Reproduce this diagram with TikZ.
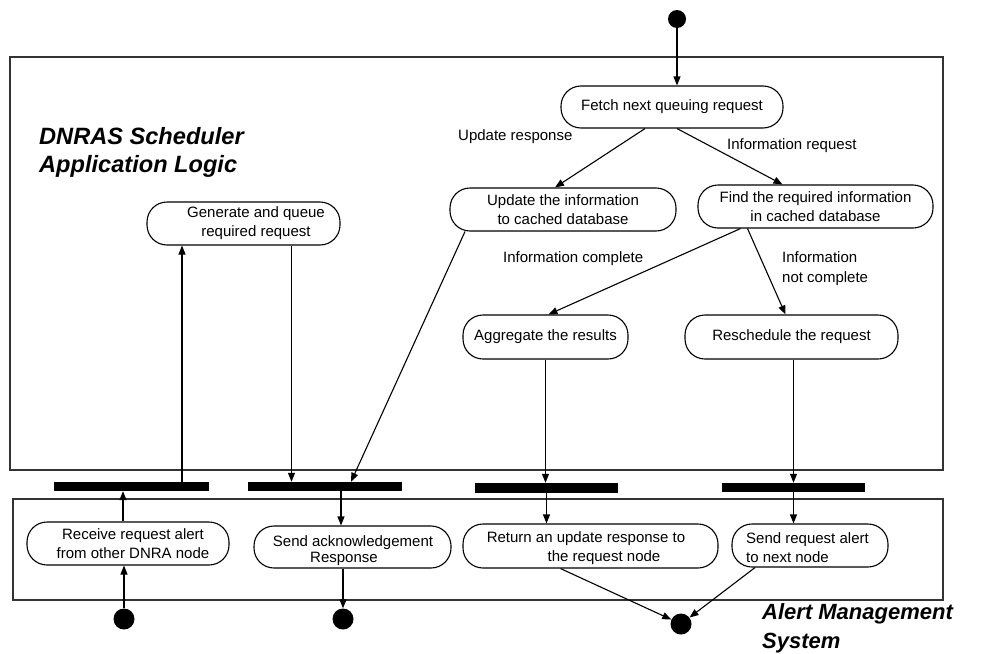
\documentclass[tikz,border=0pt]{standalone}
\usepackage{fontspec}
\setmainfont{Liberation Sans}
\usetikzlibrary{arrows.meta}
\begin{document}
\begin{tikzpicture}[x=1pt,y=-1pt,
  state/.style={draw, line width=1.1pt, rounded corners=20pt, minimum height=43pt, inner sep=0pt,
                font=\fontsize{15}{19}\selectfont, align=center},
  txt/.style={font=\fontsize{15}{19}\selectfont, inner sep=0pt},
  title/.style={font=\fontsize{22}{28}\selectfont\bfseries\itshape, inner sep=0pt, anchor=base west},
  bar/.style={fill=black, inner sep=0pt, minimum height=9pt},
  dot/.style={circle, fill=black, inner sep=0pt, minimum size=21pt},
  arr/.style={-{Triangle[length=9pt,width=7pt]}, line width=1.1pt},
  lane/.style={draw=black!80, line width=1.2pt}]
\useasboundingbox (0,0) rectangle (1003,653);

% swimlanes
\draw[lane] (10,57) rectangle (943,470);
\draw[lane] (13,499) rectangle (943,600);

% titles
\node[title, font=\fontsize{23.6}{28}\selectfont\bfseries\itshape] (t1) at (39,144) {DNRAS Scheduler};
\node[title, font=\fontsize{23.6}{28}\selectfont\bfseries\itshape] (t2) at (39,172) {Application Logic};
\node[title] (t3) at (762,619) {Alert Management};
\node[title] (t4) at (762,648) {System};

% start / end dots
\node[dot, minimum size=18pt] (top) at (677,19) {};
\node[dot] (d1) at (124,619) {};
\node[dot] (d2) at (343,619) {};
\node[dot] (d3) at (681,624) {};

% states (upper lane)
\node[state, minimum width=222pt, minimum height=42pt] (fetch) at (672,107) {Fetch next queuing request};
\node[state, minimum width=226pt] (upd) at (563,209.5) {Update the information\\to cached database};
\node[state, minimum width=235pt] (find) at (815.5,206.5) {Find the required information\\in cached database};
\node[state, minimum width=165pt, minimum height=44pt] (agg) at (545.5,337) {Aggregate the results};
\node[state, minimum width=213pt, minimum height=44pt] (res) at (791.5,337) {Reschedule the request};
\node[state, minimum width=193pt] (gen) at (243.5,223.5) {};
\node[txt, align=center] (gent) at (256,223.5) {Generate and queue\\required request};

% states (lower lane)
\node[state, minimum width=202pt] (rcv) at (128,543.5) {};
\node[txt, align=center] (rcvt) at (133,543.5) {Receive request alert\\from other DNRA node};
\node[state, minimum width=197pt, minimum height=42pt] (ack) at (352.5,547) {};
\node[txt, align=center, font=\fontsize{15}{16}\selectfont] (ackt) at (353,551) {Send acknowledgement\\Response\hspace*{18pt}};
\node[state, minimum width=255pt, minimum height=44pt] (ret) at (590.5,546) {};
\node[txt, align=center] (rett) at (586,548) {Return an update response to\\\hspace*{36pt}the request node};
\node[state, minimum width=156pt] (sra) at (810,545.5) {};
\node[txt, align=left, anchor=west] (srat) at (746,547.5) {Send request alert\\to next node};

% synchronisation bars
\node[bar, minimum width=155pt] (bar1) at (131.5,486.5) {};
\node[bar, minimum width=154pt] (bar2) at (325,486.5) {};
\node[bar, minimum width=143pt, minimum height=10pt] (bar3) at (546.5,488) {};
\node[bar, minimum width=143pt] (bar4) at (793.5,487.5) {};

% guard labels
\node[txt, anchor=west] (l1) at (458,137) {Update response};
\node[txt, anchor=west] (l2) at (727,146) {Information request};
\node[txt, anchor=west] (l3) at (503,259) {Information complete};
\node[txt, anchor=west, align=left, font=\fontsize{15}{20}\selectfont] (l4) at (782,269) {Information\\not complete};

% connectors
\draw[arr] (top.south) -- (top.south |- fetch.north);
\draw[arr] ([xshift=-27pt]fetch.south) -- ([xshift=-8pt]upd.north);
\draw[arr] ([xshift=5pt]fetch.south) -- ([xshift=-33pt]find.north);
\draw[arr] ([xshift=-75pt]find.south) -- ([xshift=3pt]agg.north);
\draw[arr] ([xshift=-68pt]find.south) -- ([xshift=-6pt]res.north);
\draw[arr] ([xshift=-98pt]upd.south) -- ([xshift=26pt]bar2.north);
\draw[arr] ([xshift=48pt]gen.south) -- ([xshift=48pt]gen.south |- bar2.north);
\draw[arr] ([xshift=50.5pt]bar1.north) -- ([xshift=50.5pt]bar1.north |- gen.south);
\draw[arr] ([xshift=-5pt]rcv.north) -- ([xshift=-5pt]rcv.north |- bar1.south);
\draw[arr] (d1.north) -- (d1.north |- rcv.south);
\draw[arr] ([xshift=16pt]bar2.south) -- ([xshift=16pt]bar2.south |- ack.north);
\draw[arr] (d2.north |- ack.south) -- (d2.north);
\draw[arr] (agg.south) -- (agg.south |- bar3.north);
\draw[arr] (bar3.south) -- (bar3.south |- ret.north);
\draw[arr] (bar4.north |- res.south) -- (bar4.north);
\draw[arr] (bar4.south) -- (bar4.south |- sra.north);
\draw[arr] ([xshift=-30pt]ret.south) -- (d3);
\draw[arr] ([xshift=-55pt]sra.south) -- (d3);
\end{tikzpicture}
\end{document}
